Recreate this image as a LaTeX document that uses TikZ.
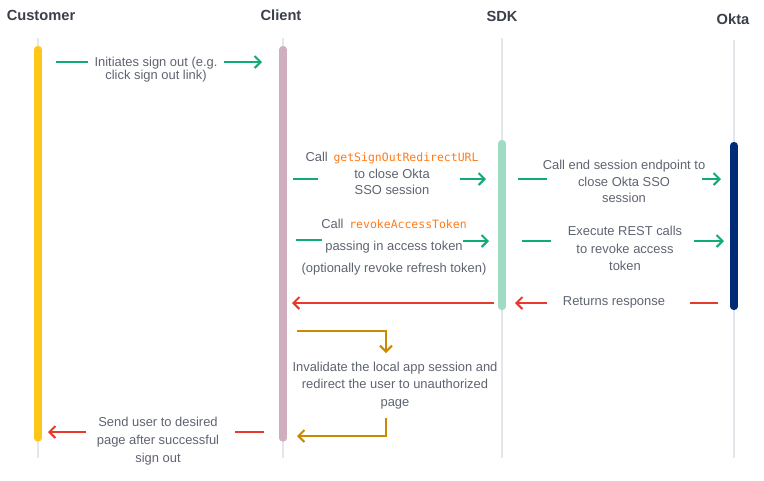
\documentclass[tikz,border=0pt]{standalone}
\usepackage{fontspec}
\setmainfont{Liberation Sans}
\setmonofont{DejaVu Sans Mono}
\usetikzlibrary{arrows.meta}
\definecolor{headc}{HTML}{3B3F4A}
\definecolor{txtc}{HTML}{5F6471}
\definecolor{lifec}{HTML}{E3E6EA}
\definecolor{yelc}{HTML}{FFC61A}
\definecolor{pinkc}{HTML}{CFAFBF}
\definecolor{mintc}{HTML}{9FDCC3}
\definecolor{navyc}{HTML}{002C77}
\definecolor{greenc}{HTML}{10AC74}
\definecolor{redc}{HTML}{E8392E}
\definecolor{goldc}{HTML}{CC8800}
\definecolor{codec}{HTML}{FF7B1A}
\newcommand{\codetxt}[1]{{\ttfamily\fontsize{8.6}{10}\selectfont\color{codec}#1}}
\begin{document}
\begin{tikzpicture}[x=0.75pt,y=-0.75pt,
  head/.style={font=\bfseries\fontsize{11}{13}\selectfont, text=headc, inner sep=0pt},
  lbl/.style={font=\fontsize{9.7}{10}\selectfont, text=txtc, align=center, inner sep=0pt},
  life/.style={draw=lifec, line width=1.5pt},
  bar/.style={line width=5.4pt, line cap=round},
  msgline/.style={line width=1.5pt},
  arr/.style={line width=1.5pt, -{Straight Barb[length=4.5pt,width=9pt,line width=1.5pt]}},
]
\useasboundingbox (0,0) rectangle (764,480);
\fill[white] (0,0) rectangle (764,480);

% headers
\node[head] (hcust) at (41,15) {Customer};
\node[head] (hcli) at (281,15) {Client};
\node[head] (hsdk) at (502,16) {SDK};
\node[head] (hokta) at (733,19) {Okta};

% lifelines
\coordinate (lcust1) at (38,38);  \coordinate (lcust2) at (38,458);
\coordinate (lcli1) at (283,38);  \coordinate (lcli2) at (283,458);
\coordinate (lsdk1) at (502,38);  \coordinate (lsdk2) at (502,458);
\coordinate (lokta1) at (734,40); \coordinate (lokta2) at (734,458);
\draw[life] (lcust1) -- (lcust2);
\draw[life] (lcli1) -- (lcli2);
\draw[life] (lsdk1) -- (lsdk2);
\draw[life] (lokta1) -- (lokta2);

% activation bars
\coordinate (bcust1) at (38,49.5);  \coordinate (bcust2) at (38,438);
\coordinate (bcli1) at (283,49.5);  \coordinate (bcli2) at (283,438);
\coordinate (bsdk1) at (502,143.5); \coordinate (bsdk2) at (502,306.5);
\coordinate (bokta1) at (734,145.5); \coordinate (bokta2) at (734,306.5);
\draw[bar, draw=yelc] (bcust1) -- (bcust2);
\draw[bar, draw=pinkc] (bcli1) -- (bcli2);
\draw[bar, draw=mintc] (bsdk1) -- (bsdk2);
\draw[bar, draw=navyc] (bokta1) -- (bokta2);

% message 1
\node[lbl, font=\fontsize{9.7}{10.2}\selectfont] (m1) at (156,69.5) {Initiates sign out (e.g.\\click sign out link)};
\coordinate (m1a) at (56,62); \coordinate (m1b) at (88,62);
\coordinate (m1c) at (224,62); \coordinate (m1d) at (262,62);
\draw[msgline, draw=greenc] (m1a) -- (m1b);
\draw[arr, draw=greenc] (m1c) -- (m1d);

% message 2
\node[lbl, font=\fontsize{9.7}{12.4}\selectfont] (m2) at (392,173.5) {Call \,\codetxt{getSignOutRedirectURL}\\to close Okta\\SSO session};
\coordinate (m2a) at (293,179); \coordinate (m2b) at (318,179);
\coordinate (m2c) at (460,179); \coordinate (m2d) at (486,179);
\draw[msgline, draw=greenc] (m2a) -- (m2b);
\draw[arr, draw=greenc] (m2c) -- (m2d);

% message 3
\node[lbl, font=\fontsize{9.7}{16.5}\selectfont] (m3) at (394,247) {Call \,\codetxt{revokeAccessToken}\\passing in access token\\(optionally revoke refresh token)};
\coordinate (m3a) at (296,240); \coordinate (m3b) at (322,240);
\coordinate (m3c) at (463,241); \coordinate (m3d) at (489,241);
\draw[msgline, draw=greenc] (m3a) -- (m3b);
\draw[arr, draw=greenc] (m3c) -- (m3d);

% message 4
\node[lbl, font=\fontsize{9.7}{12.4}\selectfont] (m4) at (624,181.5) {Call end session endpoint to\\close Okta SSO\\session};
\coordinate (m4a) at (518,179); \coordinate (m4b) at (547,179);
\coordinate (m4c) at (702,179); \coordinate (m4d) at (721,179);
\draw[msgline, draw=greenc] (m4a) -- (m4b);
\draw[arr, draw=greenc] (m4c) -- (m4d);

% message 5
\node[lbl, font=\fontsize{9.7}{13.1}\selectfont] (m5) at (625,248.5) {Execute REST calls\\to revoke access\\token};
\coordinate (m5a) at (522,241); \coordinate (m5b) at (551,241);
\coordinate (m5c) at (694,241); \coordinate (m5d) at (724,241);
\draw[msgline, draw=greenc] (m5a) -- (m5b);
\draw[arr, draw=greenc] (m5c) -- (m5d);

% message 6 (returns)
\node[lbl] (m6) at (614,302) {Returns response};
\coordinate (m6a) at (718,303); \coordinate (m6b) at (690,303);
\coordinate (m6c) at (547,303); \coordinate (m6d) at (515,303);
\draw[msgline, draw=redc] (m6a) -- (m6b);
\draw[arr, draw=redc] (m6c) -- (m6d);
\coordinate (m6e) at (494,303); \coordinate (m6f) at (292,303);
\draw[arr, draw=redc] (m6e) -- (m6f);

% message 7 (self)
\node[lbl, font=\fontsize{9.7}{13.1}\selectfont] (m7) at (395,385.5) {Invalidate the local app session and\\redirect the user to unauthorized\\page};
\coordinate (m7a) at (297,331); \coordinate (m7b) at (386,353);
\coordinate (m7c) at (386,418); \coordinate (m7d) at (297,436);
\draw[arr, draw=goldc] (m7a) -| (m7b);
\draw[arr, draw=goldc] (m7c) |- (m7d);

% message 8
\node[lbl, font=\fontsize{9.7}{13.6}\selectfont] (m8) at (158,441.5) {Send user to desired\\page after successful\\sign out};
\coordinate (m8a) at (264,432); \coordinate (m8b) at (235,432);
\coordinate (m8c) at (86,432); \coordinate (m8d) at (48,432);
\draw[msgline, draw=redc] (m8a) -- (m8b);
\draw[arr, draw=redc] (m8c) -- (m8d);
\end{tikzpicture}
\end{document}
